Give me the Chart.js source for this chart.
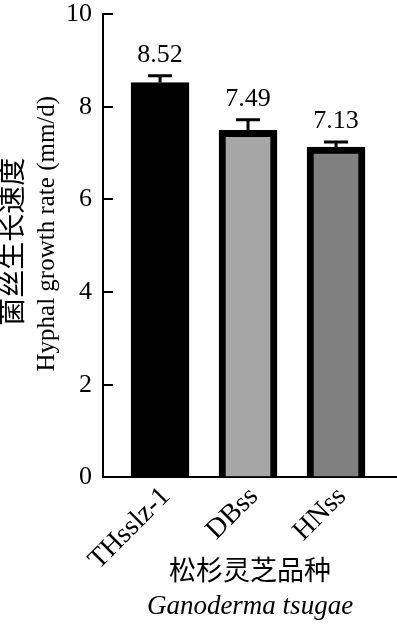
<!DOCTYPE html>
<html>
<head>
<meta charset="utf-8">
<script src="https://cdn.jsdelivr.net/npm/chart.js@4/dist/chart.umd.min.js"></script>
<style>
html,body{margin:0;padding:0;background:#fff;}
#wrap{width:397px;height:624px;position:relative;}
</style>
</head>
<body>
<div id="wrap"><canvas id="c" width="397" height="624"></canvas></div>
<script>
const categories = ['THsslz-1', 'DBss', 'HNss'];
const growthRate = [8.52, 7.49, 7.13];
const growthErr = [0.15, 0.23, 0.11];
const barColors = ['#000000', '#a6a6a6', '#808080'];
const yTicks = [0, 2, 4, 6, 8, 10];
const yTitleZh = '菌丝生长速度';
const yTitleEn = 'Hyphal growth rate (mm/d)';
const xTitleZh = '松杉灵芝品种';
const xTitleLatin = 'Ganoderma tsugae';

const SERIF = "'Times New Roman', 'Liberation Serif', 'Noto Sans CJK SC', serif";

const errorBarPlugin = {
  id: 'errorBars',
  afterDatasetsDraw(chart) {
    const ctx = chart.ctx;
    const meta = chart.getDatasetMeta(0);
    const ys = chart.scales.y;
    ctx.save();
    meta.data.forEach((bar, i) => {
      const x = bar.x;
      const top = ys.getPixelForValue(growthRate[i] + growthErr[i]);
      const base = ys.getPixelForValue(growthRate[i]);
      ctx.strokeStyle = '#000';
      ctx.lineWidth = 3;
      ctx.beginPath();
      ctx.moveTo(x, base);
      ctx.lineTo(x, top);
      ctx.moveTo(x - 12, top);
      ctx.lineTo(x + 12, top);
      ctx.stroke();
      ctx.fillStyle = '#000';
      ctx.font = '26px ' + SERIF;
      ctx.textAlign = 'center';
      ctx.textBaseline = 'alphabetic';
      ctx.fillText(growthRate[i].toFixed(2), x, top - 14);
    });
    ctx.restore();

    // y-axis title: two lines, Chinese (larger) and English
    const ca = chart.chartArea;
    const mid = (ca.top + ca.bottom) / 2;
    ctx.save();
    ctx.fillStyle = '#000';
    ctx.textAlign = 'center';
    ctx.textBaseline = 'middle';
    ctx.translate(15, mid - 4);
    ctx.rotate(-Math.PI / 2);
    ctx.font = '28px ' + SERIF;
    ctx.fillText(yTitleZh, 0, 0);
    ctx.restore();
    ctx.save();
    ctx.fillStyle = '#000';
    ctx.textAlign = 'center';
    ctx.textBaseline = 'middle';
    ctx.translate(47, mid - 12);
    ctx.rotate(-Math.PI / 2);
    ctx.font = '25px ' + SERIF;
    ctx.fillText(yTitleEn, 0, 0);
    ctx.restore();
  }
};

new Chart(document.getElementById('c'), {
  type: 'bar',
  data: {
    datasets: [{
      data: categories.map((c, i) => ({x: i, y: growthRate[i]})),
      backgroundColor: barColors,
      borderColor: '#000',
      borderWidth: 7,
      barThickness: 58
    }]
  },
  options: {
    responsive: false,
    animation: false,
    layout: {padding: {top: 14, left: 0, right: 0, bottom: 0}},
    plugins: {
      legend: {display: false},
      tooltip: {enabled: false},
      subtitle: {
        display: true,
        position: 'bottom',
        fullSize: false,
        text: xTitleZh,
        color: '#000',
        font: {family: SERIF, size: 27, lineHeight: 0.02},
        padding: {top: 0, bottom: 0}
      },
      title: {
        display: true,
        position: 'bottom',
        fullSize: false,
        text: xTitleLatin,
        color: '#000',
        font: {family: SERIF, size: 27, style: 'italic', weight: 'normal', lineHeight: 1.3},
        padding: {top: 16, bottom: 0}
      }
    },
    scales: {
      x: {
        type: 'linear',
        offset: false,
        bounds: 'data',
        min: -0.648,
        max: 2.693,
        afterBuildTicks(scale) { scale.ticks = categories.map((c, i) => ({value: i})); },
        afterFit(scale) { scale.height = 95; scale.paddingLeft = 0; scale.paddingRight = 0; },
        grid: {display: false, offset: false},
        border: {display: true, color: '#000', width: 2},
        ticks: {
          color: '#000',
          font: {family: SERIF, size: 28},
          minRotation: 45,
          maxRotation: 45,
          autoSkip: false,
          padding: -5,
          labelOffset: 6,
          callback: (v) => categories[v]
        }
      },
      y: {
        min: 0,
        max: 10,
        afterBuildTicks(scale) { scale.ticks = yTicks.map(v => ({value: v})); },
        afterFit(scale) { scale.width = 103; scale.paddingTop = 0; scale.paddingBottom = 0; },
        grid: {drawOnChartArea: false, drawTicks: true, tickLength: -10, color: '#000', lineWidth: 2},
        border: {display: true, color: '#000', width: 2},
        ticks: {
          color: '#000',
          font: {family: SERIF, size: 26},
          padding: 21
        },
        title: {display: false}
      }
    }
  },
  plugins: [errorBarPlugin]
});
</script>
</body>
</html>
